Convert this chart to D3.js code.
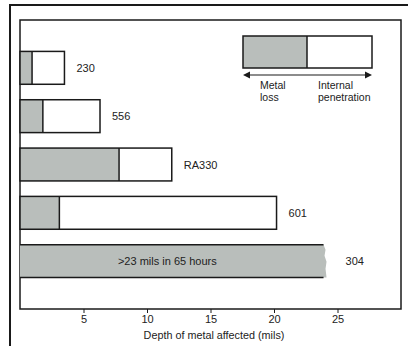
<!DOCTYPE html>
<html><head><meta charset="utf-8">
<script src="https://cdn.jsdelivr.net/npm/d3@7/dist/d3.min.js"></script>
<style>body{margin:0;background:#fff}svg{display:block}text{font-family:"Liberation Sans",Arial,sans-serif;fill:#222}</style>
</head><body><svg id="c" width="408" height="346"></svg>
<script>
const alloys = ["230", "556", "RA330", "601", "304"];
const metalLoss = [0.95, 1.8, 7.8, 3.1, 23.9];
const internalPen = [2.55, 4.5, 4.15, 17.1, 0];
const xTicks = [5, 10, 15, 20, 25];
const xTitle = "Depth of metal affected (mils)";
const note304 = ">23 mils in 65 hours";

const svg = d3.select("#c");
const gray = "#b9bebb", ink = "#1a1a1a";
const L = 20, R = 401, T = 20, B = 309;
const x = d3.scaleLinear().domain([0, 30]).range([L, L + 30 * 12.7]);
const y = d3.scaleBand().domain(alloys).range([T, B]).paddingInner(0.32).paddingOuter(0.65);

// outer frame
svg.append("rect").attr("x", 10).attr("y", 5).attr("width", 420).attr("height", 380)
  .attr("fill", "none").attr("stroke", ink).attr("stroke-width", 2);
// inner frame
svg.append("rect").attr("x", L).attr("y", T).attr("width", R - L).attr("height", B - T)
  .attr("fill", "#fff").attr("stroke", ink).attr("stroke-width", 1.5);

const data = alloys.map((a, i) => ({a, m: metalLoss[i], p: internalPen[i]}));
const g = svg.append("g");
data.forEach(d => {
  const y0 = y(d.a), h = y.bandwidth();
  if (d.p > 0) {
    g.append("rect").attr("x", x(0)).attr("y", y0).attr("width", x(d.m) - x(0)).attr("height", h).attr("fill", gray);
    g.append("rect").attr("x", x(0)).attr("y", y0).attr("width", x(d.m + d.p) - x(0)).attr("height", h)
      .attr("fill", "none").attr("stroke", ink).attr("stroke-width", 1.5);
    g.append("line").attr("x1", x(d.m)).attr("x2", x(d.m)).attr("y1", y0).attr("y2", y0 + h).attr("stroke", ink).attr("stroke-width", 1.5);
    g.append("text").attr("x", x(d.m + d.p) + 12).attr("y", y0 + h / 2 + 4).attr("font-size", 11).text(d.a);
  } else {
    const xe = x(d.m);
    const rag = [[xe, y0], [xe + 2, y0 + 5], [xe + 1, y0 + 11], [xe + 3, y0 + 17], [xe + 2, y0 + 24], [xe + 3, y0 + h]];
    const pts = [[x(0), y0]].concat(rag).concat([[x(0), y0 + h]]);
    g.append("path").attr("d", d3.line()(pts) + "Z").attr("fill", gray);
    [y0, y0 + h].forEach(yy => g.append("line").attr("x1", x(0)).attr("x2", xe).attr("y1", yy).attr("y2", yy).attr("stroke", ink).attr("stroke-width", 1.5));
    g.append("text").attr("x", xe + 22).attr("y", y0 + h / 2 + 4).attr("font-size", 11).text(d.a);
    g.append("text").attr("x", x(11.6)).attr("y", y0 + h / 2 + 4).attr("text-anchor", "middle").attr("font-size", 11).text(note304);
  }
});

// axis
const ax = svg.append("g").attr("transform", `translate(0,${B})`)
  .call(d3.axisBottom(x).tickValues(xTicks).tickSize(4).tickPadding(2).tickFormat(d3.format("d")));
ax.select(".domain").remove();
ax.selectAll("line").attr("stroke", ink);
ax.selectAll("text").attr("font-size", 11).attr("font-family", "Liberation Sans, Arial, sans-serif").attr("fill", "#222");
svg.append("text").attr("x", 214).attr("y", 339).attr("text-anchor", "middle").attr("font-size", 10.8).text(xTitle);

// legend
const lg = svg.append("g");
lg.append("rect").attr("x", 243).attr("y", 36).attr("width", 64).attr("height", 32).attr("fill", gray);
lg.append("rect").attr("x", 243).attr("y", 36).attr("width", 129).attr("height", 32).attr("fill", "none").attr("stroke", ink).attr("stroke-width", 1.5);
lg.append("line").attr("x1", 307).attr("x2", 307).attr("y1", 36).attr("y2", 68).attr("stroke", ink).attr("stroke-width", 1.5);
lg.append("line").attr("x1", 248).attr("x2", 367).attr("y1", 75).attr("y2", 75).attr("stroke", ink).attr("stroke-width", 1.2);
lg.append("path").attr("d", "M243,75 L250,71.5 L250,78.5 Z").attr("fill", ink);
lg.append("path").attr("d", "M372,75 L365,71.5 L365,78.5 Z").attr("fill", ink);
[["Metal", 260, 89], ["loss", 260, 101], ["Internal", 318, 89], ["penetration", 318, 101]].forEach(t =>
  lg.append("text").attr("x", t[1]).attr("y", t[2]).attr("font-size", 10.5).text(t[0]));
</script></body></html>
